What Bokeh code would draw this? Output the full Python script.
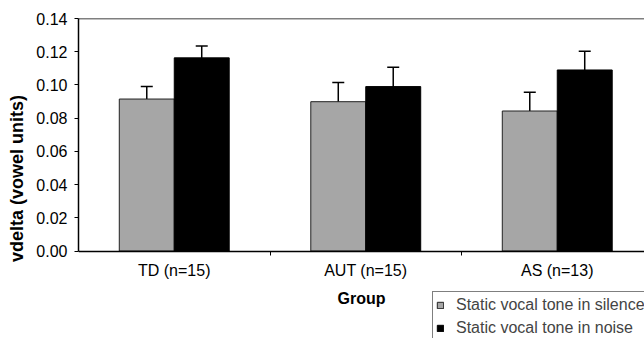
from bokeh.plotting import figure
from bokeh.models import (ColumnDataSource, FixedTicker, Legend, LegendItem, Span,
                          Whisker, TeeHead, Range1d)
from bokeh.embed import file_html
from bokeh.resources import INLINE

# ---- data ----
groups = ["TD (n=15)", "AUT (n=15)", "AS (n=13)"]
silence = [0.0915, 0.0899, 0.0843]
silence_err = [0.0075, 0.0115, 0.0113]
noise = [0.1163, 0.0990, 0.1090]
noise_err = [0.0072, 0.0116, 0.0113]
y_ticks = [0.00, 0.02, 0.04, 0.06, 0.08, 0.10, 0.12, 0.14]
series_names = ["Static vocal tone in silence", "Static vocal tone in noise"]

FONT = "Liberation Sans"
GRAY = "#a6a6a6"
BAR_W = 0.287
centers = [i + 0.5 for i in range(len(groups))]

src_s = ColumnDataSource(dict(
    x=[c - BAR_W / 2 for c in centers], top=silence,
    upper=[v + e for v, e in zip(silence, silence_err)],
    lower=[v - e for v, e in zip(silence, silence_err)]))
src_n = ColumnDataSource(dict(
    x=[c + BAR_W / 2 for c in centers], top=noise,
    upper=[v + e for v, e in zip(noise, noise_err)],
    lower=[v - e for v, e in zip(noise, noise_err)]))

Y_MAX = 0.14
Y_MIN = -Y_MAX * 320 / 232.5 + Y_MAX   # frame extends below zero to hold the legend

p = figure(width=644, height=338, output_backend="svg", toolbar_location=None,
           x_range=Range1d(0, 566 / 191.5), y_range=Range1d(Y_MIN, Y_MAX),
           min_border_left=78, min_border_right=0, min_border_top=18,
           min_border_bottom=0)
p.frame_width = 566
p.frame_height = 320
p.outline_line_color = None
p.grid.visible = False
p.background_fill_color = "white"

r_s = p.vbar(x="x", top="top", bottom=0, width=BAR_W, source=src_s, fill_color=GRAY,
             line_color="#222222", line_width=1)
r_n = p.vbar(x="x", top="top", bottom=0, width=BAR_W, source=src_n, fill_color="black",
             line_color="black", line_width=1)

for src in (src_s, src_n):
    w = Whisker(source=src, base="x", upper="upper", lower="lower",
                line_color="black", line_width=1.5,
                upper_head=TeeHead(size=12, line_color="black", line_width=1.5),
                lower_head=TeeHead(size=12, line_color="black", line_width=1.5))
    p.add_layout(w)

p.add_layout(Span(location=Y_MAX, dimension="width", line_color="black", line_width=1.5))

# y axis
p.yaxis.ticker = FixedTicker(ticks=y_ticks)
p.yaxis.bounds = (0, Y_MAX)
p.yaxis.major_label_overrides = {t: f"{t:.2f}" for t in y_ticks}
p.yaxis.axis_label = "vdelta (vowel units)"
p.yaxis.axis_label_text_font = FONT
p.yaxis.axis_label_text_font_style = "bold"
p.yaxis.axis_label_text_font_size = "18px"
p.yaxis.axis_label_text_color = "black"
p.yaxis.axis_label_standoff = 6
p.yaxis.major_label_text_font = FONT
p.yaxis.major_label_text_font_size = "16px"
p.yaxis.major_label_text_color = "black"
p.yaxis.major_tick_out = 4
p.yaxis.major_tick_in = 0
p.yaxis.minor_tick_out = 0
p.yaxis.major_label_standoff = 7
p.yaxis.axis_line_width = 1.5

# x axis, drawn at y = 0
p.xaxis.fixed_location = 0
p.xaxis.ticker = FixedTicker(ticks=centers, minor_ticks=[1, 2, 3])
p.xaxis.major_label_overrides = {c: g for c, g in zip(centers, groups)}
p.xaxis.major_tick_out = 0
p.xaxis.major_tick_in = 0
p.xaxis.minor_tick_out = 4
p.xaxis.minor_tick_in = 0
p.xaxis.major_label_standoff = 7
p.xaxis.major_label_text_font = FONT
p.xaxis.major_label_text_font_size = "16px"
p.xaxis.major_label_text_color = "black"
p.xaxis.axis_label = "Group"
p.xaxis.axis_label_text_font = FONT
p.xaxis.axis_label_text_font_style = "bold"
p.xaxis.axis_label_text_font_size = "16px"
p.xaxis.axis_label_text_color = "black"
p.xaxis.axis_label_standoff = 7
p.xaxis.axis_line_width = 1.5

legend = Legend(items=[LegendItem(label=series_names[0], renderers=[r_s]),
                       LegendItem(label=series_names[1], renderers=[r_n])],
                location=(354, -3), orientation="vertical",
                label_text_font=FONT, label_text_font_size="16px",
                glyph_width=8, glyph_height=8, label_standoff=12,
                spacing=4, padding=3, margin=0, label_height=19,
                border_line_color="black", border_line_width=1.5,
                background_fill_color="white", background_fill_alpha=1)
p.add_layout(legend, "center")

open("out.html", "w").write(file_html(p, INLINE))
